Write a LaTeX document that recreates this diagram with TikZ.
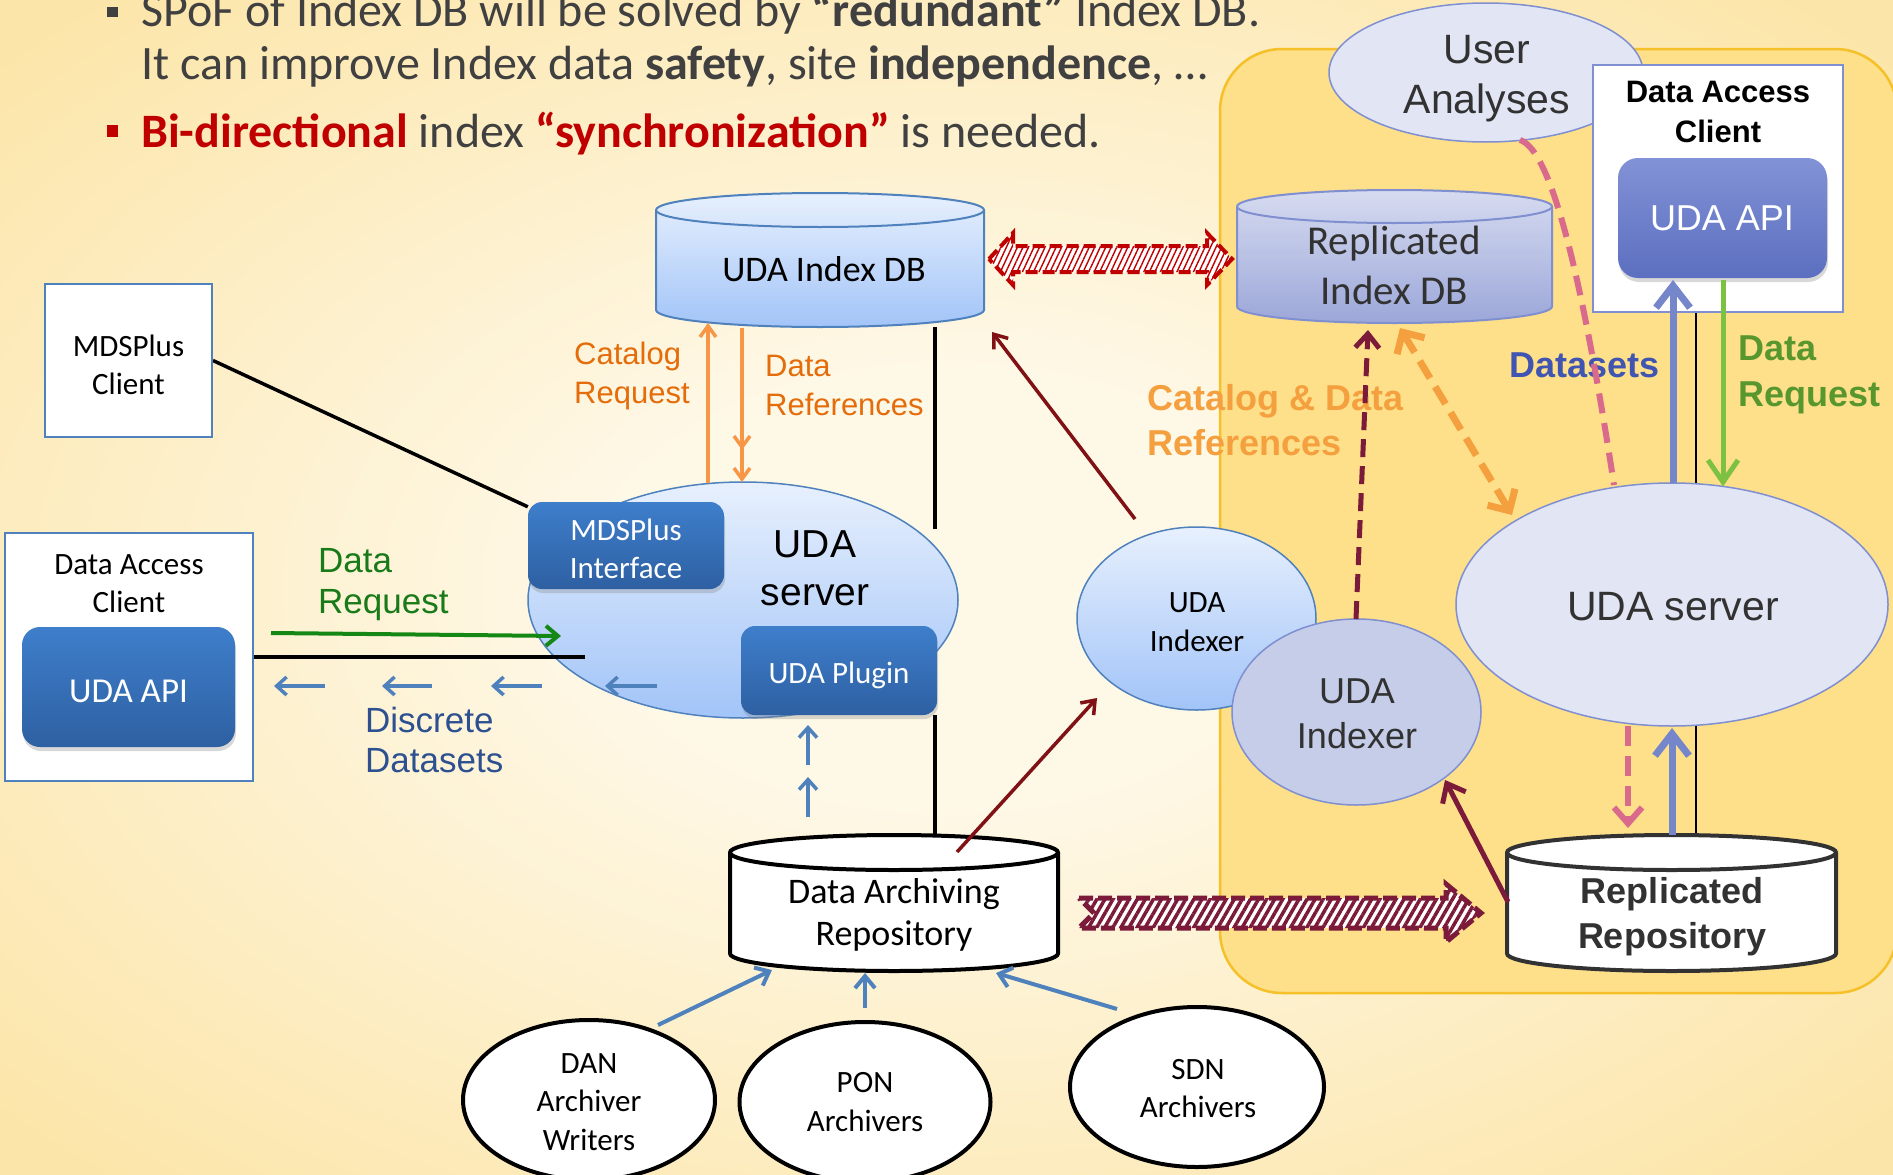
\documentclass[tikz,border=0pt]{standalone}
\usepackage{fontspec}
\setmainfont{Carlito}
\newfontfamily\arial{Liberation Sans}
\usetikzlibrary{arrows.meta,calc,shapes.geometric,patterns.meta,shadows}
\pgfdeclarelayer{bg}
\pgfdeclarelayer{back}
\pgfsetlayers{bg,back,main}

\definecolor{bgin}{RGB}{254,248,231}
\definecolor{bgout}{RGB}{252,229,168}
\definecolor{goldfill}{RGB}{254,223,138}
\definecolor{goldline}{RGB}{246,192,40}
\definecolor{txtgray}{RGB}{64,64,64}
\definecolor{bulred}{RGB}{192,0,0}
\definecolor{boxtop}{RGB}{62,126,203}
\definecolor{boxbot}{RGB}{46,96,162}
\definecolor{skytop}{RGB}{231,240,253}
\definecolor{skybot}{RGB}{162,196,248}
\definecolor{skyline}{RGB}{79,129,189}
\definecolor{lav}{RGB}{225,229,244}
\definecolor{lavline}{RGB}{127,143,208}
\definecolor{lavdark}{RGB}{197,205,232}
\definecolor{ridxtop}{RGB}{214,219,240}
\definecolor{ridxbot}{RGB}{156,167,217}
\definecolor{rapitop}{RGB}{130,146,214}
\definecolor{rapibot}{RGB}{92,111,192}
\definecolor{orgtxt}{RGB}{228,108,10}
\definecolor{orgarrow}{RGB}{247,150,70}
\definecolor{orglight}{RGB}{245,160,62}
\definecolor{dkgreen}{RGB}{24,122,24}
\definecolor{grnarrow}{RGB}{20,135,20}
\definecolor{dsblue}{RGB}{45,80,145}
\definecolor{smblue}{RGB}{79,129,189}
\definecolor{dkred}{RGB}{128,18,22}
\definecolor{maroon}{RGB}{124,26,58}
\definecolor{pinkd}{RGB}{218,106,140}
\definecolor{peri}{RGB}{117,134,202}
\definecolor{dslabel}{RGB}{64,84,178}
\definecolor{ltgreen}{RGB}{124,193,66}
\definecolor{grnlabel}{RGB}{88,150,46}
\definecolor{hatchred}{RGB}{192,0,0}
\definecolor{dark}{RGB}{50,50,50}

\pgfdeclareradialshading{bgglow}{\pgfpoint{0bp}{0bp}}{color(0bp)=(bgin); color(9bp)=(bgin); color(34bp)=(bgout); color(50bp)=(bgout)}

\newcommand\fsz[2]{\fontsize{#1pt}{#2pt}\selectfont}
% cylinder: left, top, right, bottom, end radius, body style, front-rim style
\newcommand\cylbody[7]{%
  \path[#6] (#1,#2+#5) -- (#1,#4-#5)
    arc[start angle=180,end angle=0,x radius={(#3-#1)/2},y radius=#5]
    -- (#3,#2+#5)
    arc[start angle=0,end angle=-180,x radius={(#3-#1)/2},y radius=#5] -- cycle;
  \path[#7] (#1,#2+#5) arc[start angle=180,end angle=0,x radius={(#3-#1)/2},y radius=#5];
}

\begin{document}
\begin{tikzpicture}[x=1pt,y=-1pt,
  txt/.style={inner sep=0pt,align=center},
  bluebox/.style={rounded corners=14pt,top color=boxtop,bottom color=boxbot,draw=none,inner sep=0pt,
    drop shadow={opacity=0.3,shadow xshift=1pt,shadow yshift=-4pt}},
  whitebox/.style={fill=white,inner sep=0pt,line width=2pt},
  skyell/.style={ellipse,inner sep=0pt,top color=skytop,bottom color=skybot,draw=skyline,line width=1.5pt},
  lavell/.style={ellipse,inner sep=0pt,fill=lav,draw=lavline,line width=1.5pt},
  archell/.style={ellipse,inner sep=0pt,fill=white,draw=black,line width=4pt},
  blackline/.style={draw=black,line width=3.5pt},
  thinorg/.style={draw=orgarrow,line width=3.5pt,-{Straight Barb[length=11pt,width=16pt]}},
  smallblue/.style={draw=smblue,line width=3.5pt,-{Straight Barb[length=10pt,width=18pt]}},
  grnarrowst/.style={draw=grnarrow,line width=4pt,-{Straight Barb[length=12pt,width=20pt]}},
  redarrow/.style={draw=dkred,line width=3.5pt,-{Straight Barb[length=12pt,width=18pt]}},
  archarrow/.style={draw=smblue,line width=4pt,-{Straight Barb[length=12pt,width=20pt]}},
  maroondash/.style={draw=maroon,line width=5pt,dash pattern=on 18pt off 9pt,-{Straight Barb[length=14pt,width=24pt]}},
  orangedash/.style={draw=orglight,line width=7pt,dash pattern=on 20pt off 10pt,
    {Straight Barb[length=16pt,width=32pt]}-{Straight Barb[length=16pt,width=32pt]}},
  pinkdash/.style={draw=pinkd,line width=6pt,dash pattern=on 20pt off 10pt},
  periarrow/.style={draw=peri,line width=7pt,-{Straight Barb[length=22pt,width=34pt]}},
  ltgrnarrow/.style={draw=ltgreen,line width=5pt,-{Straight Barb[length=22pt,width=30pt]}},
  maroonarrow/.style={draw=maroon,line width=5pt,-{Straight Barb[length=16pt,width=26pt]}},
  synctop/.style={draw=hatchred,line width=4pt,dash pattern=on 12pt off 5pt,line join=miter,
    preaction={fill=white},pattern={Lines[angle=65,distance=5pt,line width=1.4pt]},pattern color=hatchred},
  syncbot/.style={draw=maroon,line width=5pt,dash pattern=on 14pt off 5pt,line join=miter,
    preaction={fill=white},pattern={Lines[angle=60,distance=7pt,line width=3.5pt]},pattern color=maroon},
]
\useasboundingbox (0,0) rectangle (1893,1175);

\begin{pgfonlayer}{bg}
  \shade[shading=bgglow] (0,0) rectangle (1893,1175);
  \draw[fill=goldfill,draw=goldline,line width=2.5pt,rounded corners=62pt] (1220,49) rectangle (1897,993);
\end{pgfonlayer}

% ---------- heading bullets ----------
\fill[txtgray] (107,7) rectangle (118,17);
\fill[bulred] (107,125) rectangle (118,137);
\node[anchor=base west,inner sep=0pt,text=txtgray,font=\fsz{48}{56}] (pt1) at (141,26)
  {SPoF of Index DB will be solved by \textbf{“redundant”} Index DB.};
\node[anchor=base west,inner sep=0pt,text=txtgray,font=\fsz{48}{56}] (pt2) at (141,79)
  {It can improve Index data \textbf{safety}, site \textbf{independence}, …};
\node[anchor=base west,inner sep=0pt,text=txtgray,font=\fsz{48}{56}] (pt3) at (141,147)
  {\textcolor{bulred}{\textbf{Bi-directional}} index \textcolor{bulred}{\textbf{“synchronization”}} is needed.};

% ---------- databases ----------
\cylbody{656}{193}{984}{327}{17}{top color=skytop,bottom color=skybot,draw=skyline,line width=2pt}{draw=skyline,line width=2pt}
\node[inner sep=0pt,minimum width=328pt,minimum height=134pt] (idxdb) at (820,260) {};
\node[txt,font=\fsz{36}{44}] (idxdbtxt) at (824,272.2) {\strut UDA Index DB};

\cylbody{1237}{190}{1552}{323}{16.5}{top color=ridxtop,bottom color=ridxbot,draw=lavline,line width=2pt}{draw=lavline,line width=2pt}
\node[inner sep=0pt,minimum width=315pt,minimum height=133pt] (ridxdb) at (1394.5,256.5) {};
\node[txt,text=dark,font=\fsz{41}{50}] (ridxdbtxt) at (1394,269) {\strut Replicated\\\strut Index DB};

\cylbody{730}{835}{1058}{971}{17.5}{fill=white,draw=black,line width=4pt}{draw=black,line width=4pt}
\node[inner sep=0pt,minimum width=328pt,minimum height=136pt] (repo) at (894,903) {};
\node[txt,font=\fsz{36}{42}] (repotxt) at (894,915.6) {\strut Data Archiving\\\strut Repository};

\cylbody{1507}{835}{1836}{971}{17.5}{fill=white,draw=dark,line width=4pt}{draw=dark,line width=4pt}
\node[inner sep=0pt,minimum width=329pt,minimum height=136pt] (rrepo) at (1671.5,903) {};
\node[txt,text=dark,font=\arial\bfseries\fsz{36}{45}] (rrepotxt) at (1672,916.5) {\strut Replicated\\\strut Repository};

% ---------- left side ----------
\node[whitebox,draw=skyline,minimum width=167pt,minimum height=153pt] (mdsc) at (128.5,360.5) {};
\node[txt,font=\fsz{31}{38}] (mdsctxt) at (128.5,367.4) {\strut MDSPlus\\\strut Client};

\node[whitebox,draw=skyline,minimum width=248pt,minimum height=248pt] (dacL) at (129,657) {};
\node[txt,font=\fsz{31}{38}] (dacLtxt) at (129,585.4) {\strut Data Access\\\strut Client};
\node[bluebox,rounded corners=18pt,minimum width=213pt,minimum height=120pt] (apiL) at (128.5,687) {};
\node[txt,text=white,font=\fsz{35}{42}] (apiLtxt) at (128.5,693.6) {\strut UDA API};

\node[skyell,minimum width=430pt,minimum height=236pt] (srvL) at (743,600) {};
\node[txt,font=\arial\fsz{39}{48}] (srvLtxt) at (815,571.4) {\strut UDA\\\strut server};
\node[bluebox,minimum width=196pt,minimum height=87pt] (mdsi) at (626,545.5) {};
\node[txt,text=white,font=\fsz{31}{38}] (mdsitxt) at (626,551.4) {\strut MDSPlus\\\strut Interface};
\node[bluebox,minimum width=196pt,minimum height=89pt] (plug) at (839,670.5) {};
\node[txt,text=white,font=\fsz{31}{38}] (plugtxt) at (839,675.4) {\strut UDA Plugin};

\node[txt,align=left,anchor=west,text=dkgreen,font=\arial\fsz{35}{41}] (dreqL) at (318,584.3) {\strut Data\\\strut Request};
\node[txt,align=left,anchor=west,text=dsblue,font=\arial\fsz{35}{40}] (dsets) at (365,744) {\strut Discrete\\\strut Datasets};
\node[txt,align=left,anchor=west,text=orgtxt,font=\arial\fsz{31}{39}] (catreq) at (574,375.7) {\strut Catalog\\\strut Request};
\node[txt,align=left,anchor=west,text=orgtxt,font=\arial\fsz{31}{39}] (dataref) at (765,387.7) {\strut Data\\\strut References};

% ---------- indexers ----------
\node[skyell,minimum width=239pt,minimum height=183pt] (indL) at (1196.5,618.5) {};
\node[txt,font=\fsz{31}{39}] (indLtxt) at (1197,623.7) {\strut UDA\\\strut Indexer};
\node[ellipse,inner sep=0pt,fill=lavdark,draw=lavline,line width=1.5pt,minimum width=249pt,minimum height=186pt] (indR) at (1356.5,712) {};
\node[txt,text=dark,font=\arial\fsz{36}{45}] (indRtxt) at (1357,716.5) {\strut UDA\\\strut Indexer};

% ---------- replica site ----------
\node[lavell,minimum width=432pt,minimum height=243pt] (srvR) at (1672,604.5) {};
\node[txt,text=dark,font=\arial\fsz{41}{50}] (srvRtxt) at (1673,610) {\strut UDA server};
\node[lavell,minimum width=314pt,minimum height=139pt] (ua) at (1486,72.5) {};
\node[txt,text=dark,font=\arial\fsz{41}{50}] (uatxt) at (1487,78) {\strut User\\\strut Analyses};
\node[whitebox,draw=lavline,line width=2.5pt,minimum width=250pt,minimum height=247pt] (dacR) at (1718,188.5) {};
\node[txt,font=\arial\bfseries\fsz{31}{40}] (dacRtxt) at (1718,114) {\strut Data Access\\\strut Client};
\node[bluebox,rounded corners=20pt,top color=rapitop,bottom color=rapibot,minimum width=209pt,minimum height=120pt] (apiR) at (1722.5,218) {};
\node[txt,text=white,font=\arial\fsz{36}{45}] (apiRtxt) at (1722,221) {\strut UDA API};

\node[anchor=base west,inner sep=0pt,text=dslabel,font=\arial\bfseries\fsz{36}{45}] (dsetsR) at (1509,377) {Datasets};
\node[txt,align=left,anchor=west,text=grnlabel,font=\arial\bfseries\fsz{36}{46}] (dreqR) at (1738,374.6) {\strut Data\\\strut Request};
\node[txt,align=left,anchor=west,text=orglight,font=\arial\bfseries\fsz{36}{45}] (catref) at (1147,423.5) {\strut Catalog \& Data\\\strut References};

% ---------- archivers ----------
\node[archell,minimum width=252pt,minimum height=160pt] (dan) at (589,1100) {};
\node[txt,font=\fsz{31}{38.5}] (dantxt) at (589,1103.8) {\strut DAN\\\strut Archiver\\\strut Writers};
\node[archell,minimum width=251pt,minimum height=160pt] (pon) at (865,1102) {};
\node[txt,font=\fsz{31}{38.5}] (pontxt) at (865,1104.3) {\strut PON\\\strut Archivers};
\node[archell,minimum width=254pt,minimum height=160pt] (sdn) at (1197,1087) {};
\node[txt,font=\fsz{31}{38.5}] (sdntxt) at (1198,1090.8) {\strut SDN\\\strut Archivers};

% ---------- plain links behind the shapes ----------
\begin{pgfonlayer}{back}
  \draw[blackline] (mdsc.east) -- ($(mdsi.north west)+(0,5)$);
  \draw[blackline] ($(idxdb)+(115,67)$) -- ($(srvL)+(192,-71)$);
  \draw[blackline] ($(plug)+(96,44.5)$) -- ($(repo)+(41,-67)$);
  \draw[blackline,line width=2.5pt] ($(dacR)+(-22,123.5)$) -- ($(srvR)+(24,-121)$);
  \draw[blackline,line width=2.5pt] ($(srvR)+(24,121)$) -- ($(rrepo)+(24.5,-68)$);
\end{pgfonlayer}

% ---------- index synchronisation and data replication ----------
\draw[synctop] ($(idxdb)+(169,-1)$) -- ($(idxdb)+(193,-27)$) -- ($(idxdb)+(193,-14)$)
  -- ($(ridxdb)+(-187.5,-10.5)$) -- ($(ridxdb)+(-187.5,-23.5)$) -- ($(ridxdb)+(-162.5,2.5)$)
  -- ($(ridxdb)+(-187.5,28.5)$) -- ($(ridxdb)+(-187.5,15.5)$)
  -- ($(idxdb)+(193,12)$) -- ($(idxdb)+(193,25)$) -- cycle;
\draw[syncbot] ($(repo)+(185,-5)$) -- ($(rrepo)+(-225.5,-5)$) -- ($(rrepo)+(-225.5,-19)$)
  -- ($(rrepo)+(-190.5,10)$) -- ($(rrepo)+(-225.5,39)$) -- ($(rrepo)+(-225.5,25)$)
  -- ($(repo)+(185,25)$) -- ($(repo)+(200,10)$) -- cycle;

% ---------- main site connectors ----------
\draw[thinorg] ($(srvL)+(-35,-117)$) -- ($(idxdb)+(-112,63)$);
\draw[thinorg] ($(idxdb)+(-78,68)$) -- ($(srvL)+(-1,-118)$);
\draw[thinorg] ($(idxdb)+(-78,68)$) -- ($(srvL)+(-1,-150)$);

\draw[blackline] (dacL.east) -- ($(srvL)+(-158,57)$);
\draw[grnarrowst] ($(dacL)+(142,-24)$) -- ($(srvL)+(-182,36)$);
\foreach \a/\b in {-418/-469,-311/-361,-201/-252,-86/-138}
  \draw[smallblue] ($(srvL)+(\a,86)$) -- ($(srvL)+(\b,86)$);
\draw[smallblue] ($(plug)+(-31,94.5)$) -- ($(plug)+(-31,54.5)$);
\draw[smallblue] ($(plug)+(-31,146.5)$) -- ($(plug)+(-31,106.5)$);

\draw[redarrow] ($(indL)+(-61.5,-99.5)$) -- ($(idxdb)+(172,72)$);
\draw[redarrow] ($(repo)+(63,-51)$) -- ($(indL)+(-99.5,79.5)$);

\draw[archarrow] ($(dan)+(69,-75)$) -- ($(repo)+(-122,67)$);
\draw[archarrow] ($(pon)+(0,-94)$) -- ($(repo)+(-29,70)$);
\draw[archarrow] ($(sdn)+(-80,-78)$) -- ($(repo)+(102,70)$);

% ---------- replica site connectors ----------
\draw[maroondash] ($(indR)+(-0.5,-93)$) -- ($(ridxdb)+(-26.5,73.5)$);
\draw[orangedash] ($(ridxdb)+(5.5,71.5)$) -- ($(srvR)+(-160,-89.5)$);
\draw[pinkdash] ($(ua)+(34,67.5)$) .. controls ($(ua)+(59,75.5)$) and ($(ua)+(89,157.5)$) .. ($(srvR)+(-58,-119.5)$);
\draw[pinkdash,-{Straight Barb[length=16pt,width=28pt]}] ($(srvR)+(-44,121.5)$) -- ($(rrepo)+(-43.5,-75)$);
\draw[periarrow] ($(srvR)+(1,-122)$) -- ($(apiR)+(-49.5,62)$);
\draw[periarrow] ($(rrepo)+(0.5,-68)$) -- ($(srvR)+(0,123.5)$);
\draw[ltgrnarrow] ($(apiR)+(0.5,62)$) -- ($(srvR)+(51,-118)$);
\draw[maroonarrow] ($(rrepo)+(-163.5,-1)$) -- ($(indR)+(88.5,68)$);
\end{tikzpicture}
\end{document}
